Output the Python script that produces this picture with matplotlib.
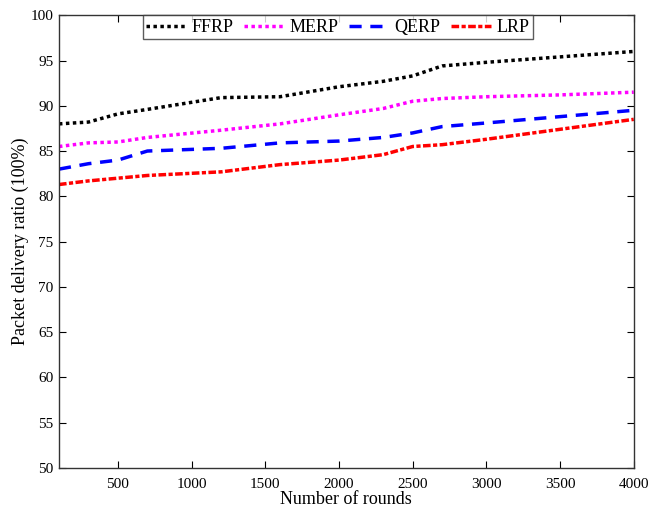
import numpy as np
import matplotlib.pyplot as plt

plt.rcParams['font.family'] = ['Liberation Serif', 'DejaVu Serif']

# data
rounds = [100, 300, 500, 700, 1200, 1600, 2000, 2300, 2500, 2700, 3000, 3500, 4000]
ffrp = [88.0, 88.2, 89.1, 89.6, 90.9, 91.0, 92.1, 92.7, 93.3, 94.4, 94.8, 95.4, 96.0]
merp = [85.5, 85.9, 86.0, 86.5, 87.3, 88.0, 89.0, 89.7, 90.5, 90.8, 91.0, 91.2, 91.5]
qerp = [83.0, 83.6, 84.0, 85.0, 85.3, 85.9, 86.1, 86.5, 87.0, 87.7, 88.1, 88.8, 89.5]
lrp = [81.3, 81.7, 82.0, 82.3, 82.7, 83.5, 84.0, 84.6, 85.5, 85.7, 86.3, 87.4, 88.5]

fig = plt.figure(figsize=(6.48, 5.08), dpi=100)
ax = fig.add_axes([0.091, 0.079, 0.887, 0.891])

ax.plot(rounds, ffrp, color='black', linestyle=(0, (1, 1)), lw=2.5, label='FFRP')
ax.plot(rounds, merp, color='#ff00ff', linestyle=(0, (1, 1)), lw=2.5, label='MERP')
ax.plot(rounds, qerp, color='blue', linestyle=(0, (3.5, 2.5)), lw=2.5, label='QERP')
ax.plot(rounds, lrp, color='red', linestyle=(0, (2.2, 0.7, 1.2, 0.7)), lw=2.5, label='LRP')

ax.set_xlim(100, 4000)
ax.set_ylim(50, 100)
ax.set_xticks(np.arange(500, 4001, 500))
ax.set_yticks(np.arange(50, 101, 5))
ax.tick_params(direction='in', top=True, right=True, labelsize=11, length=5, pad=4)
ax.tick_params(axis='x', pad=7)
for s in ax.spines.values():
    s.set_linewidth(1.0)
    s.set_color('#333333')

ax.set_xlabel('Number of rounds', fontsize=13, labelpad=0)
ax.set_ylabel('Packet delivery ratio (100%)', fontsize=13, labelpad=1)

leg = ax.legend(loc='upper center', ncol=4, fontsize=13, frameon=True, fancybox=False,
                handlelength=2.2, columnspacing=0.6, handletextpad=0.3,
                borderpad=0.2, borderaxespad=0.0, bbox_to_anchor=(0.485, 1.0))
leg.get_frame().set_edgecolor('#333333')
leg.get_frame().set_linewidth(1.0)

fig.savefig('out.png', dpi=100)
